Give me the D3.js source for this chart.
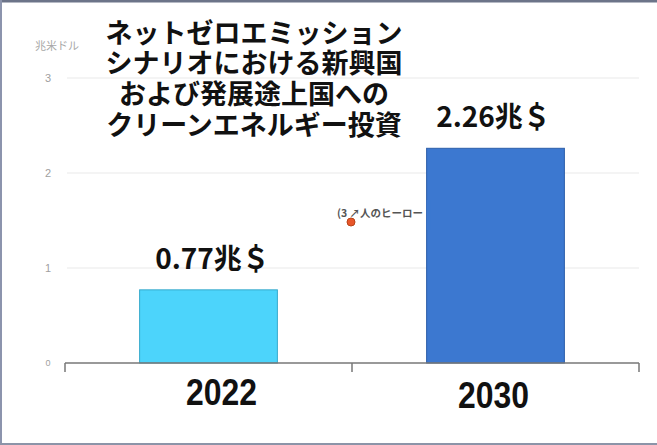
<!DOCTYPE html>
<html>
<head>
<meta charset="utf-8">
<script src="https://cdn.jsdelivr.net/npm/d3@7"></script>
<style>
  html, body { margin: 0; padding: 0; background: #fff; }
  svg { display: block; }
</style>
</head>
<body>
<svg id="chart" width="657" height="445"></svg>
<script>
// données du graphique
const years = ["2022", "2030"];
const values = [0.77, 2.26];
const valueLabels = ["0.77兆＄", "2.26兆＄"];
const yTicks = [0, 1, 2, 3];
const unitLabel = "兆米ドル";
const titleLines = ["ネットゼロエミッション", "シナリオにおける新興国", "および発展途上国への", "クリーンエネルギー投資"];
const barColors = ["#4cd4fb", "#3c78d0"];
const barStrokes = ["#35a9cc", "#2c5ea9"];

const svg = d3.select("#chart"),
    W = 657, H = 445;

svg.append("rect").attr("x", 0).attr("y", 0).attr("width", W).attr("height", H).attr("fill", "#fff");

let x = d3.scaleBand().domain(years).range([65, 639]).paddingInner(0.52).paddingOuter(0.26),
    y = d3.scaleLinear().domain([0, 3]).range([363, 78]);

// grille
svg.append("g").selectAll("line").data(yTicks.filter(d => d > 0)).join("line")
    .attr("x1", 67).attr("x2", 639)
    .attr("y1", d => y(d)).attr("y2", d => y(d))
    .attr("stroke", "#e9e9e9").attr("stroke-width", 1);

// étiquettes de l'axe y
svg.append("g").selectAll("text").data(yTicks).join("text")
    .attr("x", 48).attr("y", d => y(d))
    .attr("text-anchor", "middle").attr("dominant-baseline", "central")
    .attr("font-family", "Liberation Sans, Arial, sans-serif")
    .attr("font-size", d => d == 0 ? 9 : 11)
    .attr("fill", "#a0a0a0")
    .text(d => d);

svg.append("text").attr("x", 57).attr("y", 45)
    .attr("text-anchor", "middle").attr("dominant-baseline", "central")
    .attr("font-family", "Noto Sans CJK JP, sans-serif").attr("font-size", 11)
    .attr("fill", "#a8a8a8").text(unitLabel);

// barres
let data = years.map((d, i) => ({year: d, value: values[i], label: valueLabels[i], i: i}));
svg.append("g").selectAll("rect").data(data).join("rect")
    .attr("x", d => x(d.year)).attr("width", x.bandwidth())
    .attr("y", d => y(d.value)).attr("height", d => y(0) - y(d.value))
    .attr("fill", d => barColors[d.i]).attr("stroke", d => barStrokes[d.i]).attr("stroke-width", 1);

// axe x
let edges = [x.range()[0], x("2030") - x.step() * x.paddingInner() / 2, x.range()[1]];
svg.append("line").attr("x1", edges[0]).attr("x2", edges[2]).attr("y1", y(0)).attr("y2", y(0))
    .attr("stroke", "#777").attr("stroke-width", 1.5);
svg.append("g").selectAll("line").data(edges).join("line")
    .attr("x1", d => d).attr("x2", d => d).attr("y1", y(0)).attr("y2", y(0) + 9)
    .attr("stroke", "#777").attr("stroke-width", 1.5);

svg.append("g").selectAll("text").data(data).join("text")
    .attr("x", d => x(d.year) + x.bandwidth() / 2 + (d.i == 0 ? 13 : -2))
    .attr("y", d => d.i == 0 ? 405 : 408)
    .attr("text-anchor", "middle")
    .attr("font-family", "Liberation Sans, Arial, sans-serif")
    .attr("font-weight", "bold").attr("font-size", 36)
    .attr("textLength", 71).attr("lengthAdjust", "spacingAndGlyphs")
    .attr("fill", "#111").text(d => d.year);

// valeurs
svg.append("g").selectAll("text").data(data).join("text")
    .attr("x", d => x(d.year) + x.bandwidth() / 2 + (d.i == 0 ? 4 : -2))
    .attr("y", d => y(d.value) - 21)
    .attr("text-anchor", "middle")
    .attr("font-family", "Noto Sans CJK JP, sans-serif")
    .attr("font-weight", "bold").attr("font-size", 28)
    .attr("fill", "#111").text(d => d.label);

// titre (un seul bloc de texte)
svg.append("text")
    .attr("text-anchor", "middle")
    .attr("font-family", "Noto Sans CJK JP, sans-serif")
    .attr("font-weight", "bold").attr("font-size", 27)
    .attr("fill", "#111")
    .selectAll("tspan").data(titleLines).join("tspan")
    .attr("x", 254).attr("y", (d, i) => 42.5 + i * 30.7)
    .text(d => d);

// annotation parasite
svg.append("text").attr("x", 337).attr("y", 212)
    .attr("dominant-baseline", "central")
    .attr("font-family", "Noto Sans CJK JP, sans-serif").attr("font-weight", "bold").attr("font-size", 10.5)
    .attr("fill", "#555").text("(3 ↗人のヒーロー");
svg.append("circle").attr("cx", 351).attr("cy", 222).attr("r", 4)
    .attr("fill", "#e8562a").attr("stroke", "#b84418").attr("stroke-width", 1);
svg.append("rect").attr("x", x("2030")).attr("y", 200).attr("width", 4).attr("height", 30)
    .attr("fill", barColors[1]);

// bordure
svg.append("rect").attr("x", 0).attr("y", 0).attr("width", W).attr("height", 2.5).attr("fill", "#6c7489");
svg.append("rect").attr("x", 0).attr("y", 0).attr("width", 2).attr("height", H).attr("fill", "#8c94ad");
svg.append("rect").attr("x", 0).attr("y", H - 2).attr("width", W).attr("height", 2).attr("fill", "#8c94a8");
</script>
</body>
</html>
